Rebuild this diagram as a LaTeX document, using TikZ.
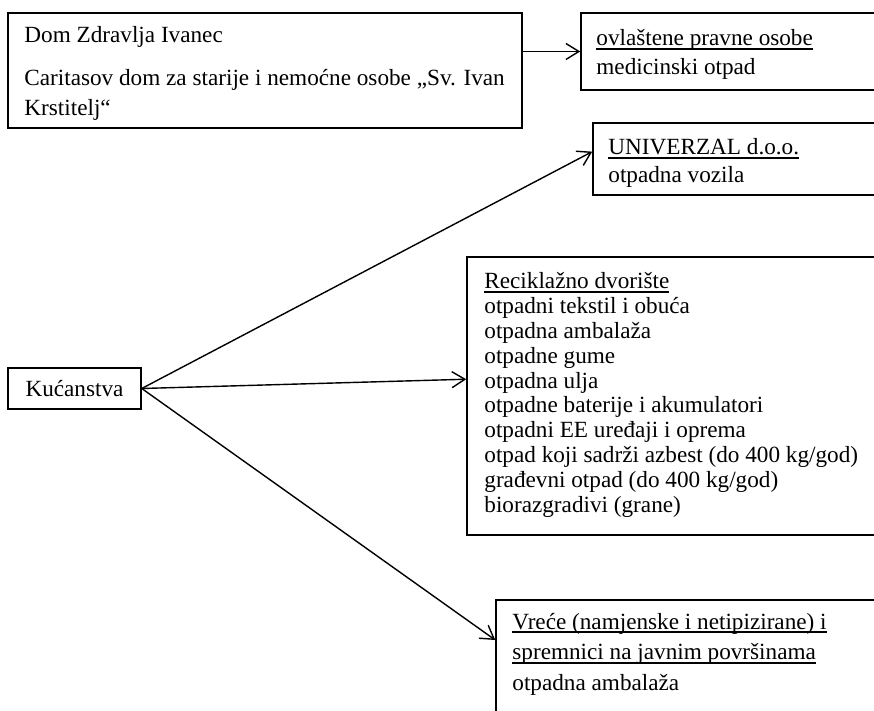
\documentclass[tikz,border=0pt]{standalone}
\usepackage{fontspec}
\setmainfont{Liberation Serif}
\usetikzlibrary{arrows.meta,fit,calc}
\newcommand\myul[1]{\setbox0\hbox{#1}\rlap{\vrule width\wd0 height -0.9pt depth 1.9pt}\box0}
\begin{document}
\begin{tikzpicture}[x=0.5pt,y=-0.5pt,
 box/.style={draw, line width=0.75pt, inner sep=0pt},
 txt/.style={anchor=base west, inner sep=0pt, font=\fontsize{11.6pt}{13pt}\selectfont},
 arr/.style={line width=0.7pt, -{Straight Barb[length=6.5pt,width=8pt]}}]
\useasboundingbox (0,0) rectangle (874,711);
\clip (0,0) rectangle (874,711);
\fill[white] (0,0) rectangle (874,711);
% boxes
\node[box, fit={(8,13)(522,128)}] (dom) {};
\node[box, fit={(581,13)(900,90)}] (ovl) {};
\node[box, fit={(593,123)(900,195)}] (univ) {};
\node[box, fit={(467,257)(900,535)}] (rec) {};
\node[box, fit={(496,600)(900,730)}] (vre) {};
\node[box, minimum width=66.5pt, minimum height=20.5pt, font=\fontsize{11.6pt}{13pt}\selectfont] (kuc) at (74.5,388.5) {Kućanstva};
% texts
\node[txt] (d1) at (24,43) {Dom Zdravlja Ivanec};
\node[txt] (d2) at (24,86) {Caritasov dom za starije i nemoćne osobe „Sv. Ivan};
\node[txt] (d3) at (24,116) {Krstitelj“};
\node[txt] (o1) at (596,46) {\myul{ovlaštene pravne osobe}};
\node[txt] (o2) at (596,75) {medicinski otpad};
\node[txt] (u1) at (608,155) {\myul{UNIVERZAL d.o.o.}};
\node[txt] (u2) at (608,183) {otpadna vozila};
\node[txt] (r1) at (484,289) {\myul{Reciklažno dvorište}};
\foreach \t [count=\i from 2] in {otpadni tekstil i obuća, otpadna ambalaža, otpadne gume, otpadna ulja, otpadne baterije i akumulatori, otpadni EE uređaji i oprema, otpad koji sadrži azbest (do 400 kg/god), građevni otpad (do 400 kg/god), biorazgradivi (grane)}
  \node[txt] (r\i) at (484,{289+24.8*(\i-1)}) {\t};
\node[txt] (v1) at (512,629) {\myul{Vreće (namjenske i netipizirane) i}};
\node[txt] (v2) at (512,660) {\myul{spremnici na javnim površinama}};
\node[txt] (v3) at (512,690) {otpadna ambalaža};
% arrows
\draw[arr] (dom.east |- ovl.west) -- (ovl.west);
\draw[arr] (kuc.east) -- ($(univ.north west)!0.4!(univ.south west)$);
\draw[arr] (kuc.east) -- ($(rec.north west)!0.44!(rec.south west)$);
\draw[arr] (kuc.east) -- ($(vre.north west)!0.31!(vre.south west)$);
\end{tikzpicture}
\end{document}
